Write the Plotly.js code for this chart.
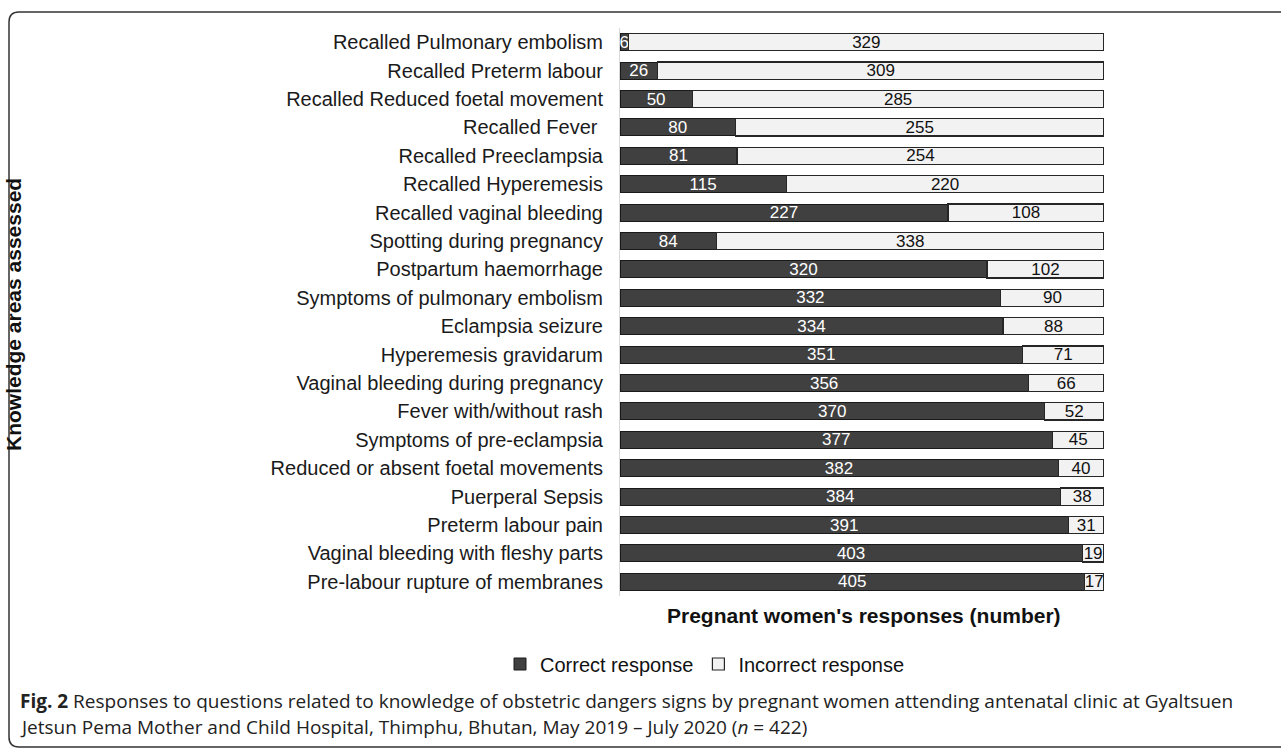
<!DOCTYPE html>
<html>
<head>
<meta charset="utf-8">
<script src="https://cdn.plot.ly/plotly-3.0.1.min.js"></script>
<style>
html,body{margin:0;padding:0;background:#fff;}
#chart{width:1281px;height:751px;}
</style>
</head>
<body>
<div id="chart"></div>
<script>
// Categories, top to bottom as in the reference
const categories = [
  "Recalled Pulmonary embolism",
  "Recalled Preterm labour",
  "Recalled Reduced foetal movement",
  "Recalled Fever ",
  "Recalled Preeclampsia",
  "Recalled Hyperemesis",
  "Recalled vaginal bleeding",
  "Spotting during pregnancy",
  "Postpartum haemorrhage",
  "Symptoms of pulmonary embolism",
  "Eclampsia seizure",
  "Hyperemesis gravidarum",
  "Vaginal bleeding during pregnancy",
  "Fever with/without rash",
  "Symptoms of pre-eclampsia",
  "Reduced or absent foetal movements",
  "Puerperal Sepsis",
  "Preterm labour pain",
  "Vaginal bleeding with fleshy parts",
  "Pre-labour rupture of membranes"
];
const correct = [6, 26, 50, 80, 81, 115, 227, 84, 320, 332, 334, 351, 356, 370, 377, 382, 384, 391, 403, 405];
const incorrect = [329, 309, 285, 255, 254, 220, 108, 338, 102, 90, 88, 71, 66, 52, 45, 40, 38, 31, 19, 17];
const seriesNames = ["Correct response", "Incorrect response"];
const xTitle = "Pregnant women's responses (number)";
const yTitle = "Knowledge areas assessed";
const captionLine1 = "<b>Fig. 2</b> Responses to questions related to knowledge of obstetric dangers signs by pregnant women attending antenatal clinic at Gyaltsuen";
const captionLine2 = "Jetsun Pema Mother and Child Hospital, Thimphu, Bhutan, May 2019 \u2013 July 2020 (<i>n</i> = 422)";

// layout geometry (pixels)
const W = 1281, H = 751;
const L = 620, R = 1104, T = 28, B = 596;
const px = p => (p - L) / (R - L);
const py = p => (B - p) / (B - T);

const font = "Liberation Sans, Arial, sans-serif";

const traces = [
  {
    type: "bar", orientation: "h", name: seriesNames[0],
    y: categories, x: correct, text: correct.map(String),
    textposition: "inside", insidetextanchor: "middle", constraintext: "none", textangle: 0,
    textfont: {family: font, size: 17, color: "#ffffff"},
    marker: {color: "#404040", line: {color: "#1a1a1a", width: 1}},
    hoverinfo: "none"
  },
  {
    type: "bar", orientation: "h", name: seriesNames[1],
    y: categories, x: incorrect, text: incorrect.map(String),
    textposition: "inside", insidetextanchor: "middle", constraintext: "none", textangle: 0,
    textfont: {family: font, size: 17, color: "#111111"},
    marker: {color: "#f2f2f2", line: {color: "#262626", width: 1.2}},
    hoverinfo: "none"
  }
];

const r = 10;
const frameTop = 12, frameLeft = 9, frameBottom = 747;
const framePath =
  `M ${px(W + 20)} ${py(frameTop)} L ${px(frameLeft + r)} ${py(frameTop)} ` +
  `Q ${px(frameLeft)} ${py(frameTop)} ${px(frameLeft)} ${py(frameTop + r)} ` +
  `L ${px(frameLeft)} ${py(frameBottom - r)} ` +
  `Q ${px(frameLeft)} ${py(frameBottom)} ${px(frameLeft + r)} ${py(frameBottom)} ` +
  `L ${px(W + 20)} ${py(frameBottom)}`;

const layout = {
  width: W, height: H,
  margin: {l: L, r: W - R, t: T, b: H - B, pad: 0},
  paper_bgcolor: "#ffffff", plot_bgcolor: "#ffffff",
  barmode: "stack", barnorm: "percent", bargap: 0.40,
  showlegend: true,
  legend: {
    orientation: "h", x: px(705), xanchor: "center", y: py(664), yanchor: "middle",
    font: {family: font, size: 20, color: "#111"}, traceorder: "normal",
    itemwidth: 30, tracegroupgap: 0, bgcolor: "rgba(0,0,0,0)"
  },
  xaxis: {
    range: [0, 100], showticklabels: false, showgrid: false, zeroline: false,
    showline: false, fixedrange: true,
    title: {text: ""}
  },
  yaxis: {
    autorange: "reversed", showgrid: false, zeroline: false,
    showline: true, linecolor: "#d9d9d9", linewidth: 1,
    ticks: "", ticklabelstandoff: 12,
    tickfont: {family: font, size: 20, color: "#1a1a1a"},
    automargin: false, fixedrange: true
  },
  annotations: [
    {text: "<b>" + xTitle + "</b>", xref: "paper", yref: "paper", x: px(864), y: py(615),
     xanchor: "center", yanchor: "middle", showarrow: false,
     font: {family: font, size: 21, color: "#111"}},
    {text: "<b>" + yTitle + "</b>", xref: "paper", yref: "paper", x: px(14), y: py(315),
     xanchor: "center", yanchor: "middle", showarrow: false, textangle: -90,
     font: {family: font, size: 21, color: "#111"}},
    {text: captionLine1, xref: "paper", yref: "paper", x: px(18), y: py(701),
     xanchor: "left", yanchor: "middle", showarrow: false, align: "left",
     font: {family: "Open Sans, Noto Sans, sans-serif", size: 19, color: "#222"}},
    {text: captionLine2, xref: "paper", yref: "paper", x: px(18), y: py(727),
     xanchor: "left", yanchor: "middle", showarrow: false, align: "left",
     font: {family: "Open Sans, Noto Sans, sans-serif", size: 19, color: "#222"}}
  ],
  shapes: [
    {type: "path", xref: "paper", yref: "paper", path: framePath,
     line: {color: "#333", width: 1.5}, fillcolor: "rgba(0,0,0,0)", layer: "above"}
  ]
};

Plotly.newPlot("chart", traces, layout, {staticPlot: true, displayModeBar: false});
</script>
</body>
</html>
